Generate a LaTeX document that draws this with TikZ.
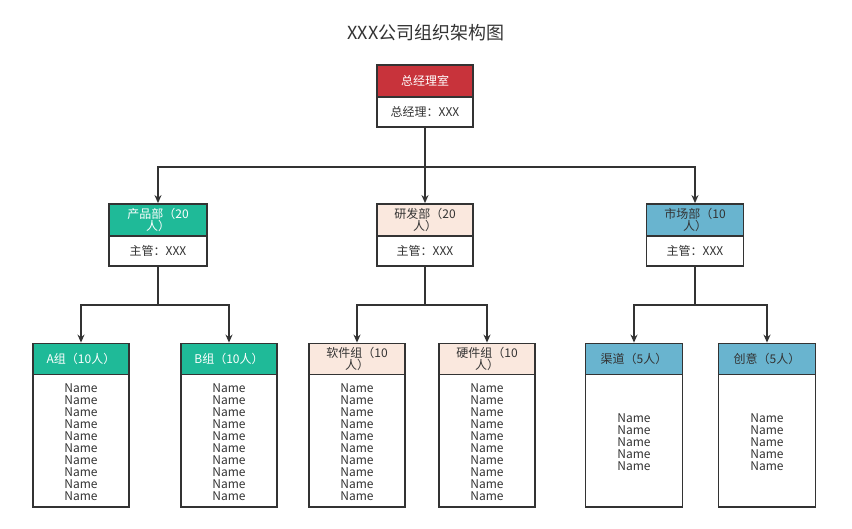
\documentclass[tikz,border=0pt]{standalone}
\usepackage{fontspec}
\setmainfont{Noto Sans CJK SC}
\newfontfamily\cjk{Noto Sans CJK SC}
\usetikzlibrary{arrows.meta}
\definecolor{dark}{HTML}{333333}
\definecolor{cred}{HTML}{C8333B}
\definecolor{cteal}{HTML}{1FBA98}
\definecolor{cpeach}{HTML}{FAE8DE}
\definecolor{cblue}{HTML}{69B4CF}
\definecolor{txt}{HTML}{333333}
\begin{document}
\begin{tikzpicture}[x=1pt,y=-1pt,
  box/.style={draw=dark,line width=1.8pt,inner sep=0pt,align=center,text=txt,
    font=\cjk\fontsize{12}{12}\selectfont},
  hdr/.style={box,minimum height=31pt},
  bodyA/.style={box,fill=white,minimum height=30pt},
  bodyB/.style={box,fill=white,minimum height=133pt},
  wtext/.style={text=white},
  conn/.style={draw=dark,line width=1.2pt},
  arr/.style={conn,-{Stealth[length=8pt,width=7pt]}}
]
\fill[white] (0,0) rectangle (852,529);
\node[font=\cjk\fontsize{18}{18}\selectfont,text=txt] (title) at (426,33) {XXX公司组织架构图};

% top
\node[bodyA,minimum width=96pt] (topb) at (425,112) {总经理：XXX};
\node[hdr,fill=cred,wtext,minimum width=96pt,minimum height=32pt] (toph) at (425,81) {总经理室};

% level 2
\node[bodyA,minimum width=98pt] (pb) at (158,251) {主管：XXX};
\node[hdr,fill=cteal,wtext,minimum width=98pt,minimum height=32pt] (ph) at (158,220) {产品部（20\\人）};
\node[bodyA,minimum width=96pt] (yb) at (425,251) {主管：XXX};
\node[hdr,fill=cpeach,minimum width=96pt,minimum height=32pt] (yh) at (425,220) {研发部（20\\人）};
\node[bodyA,minimum width=97pt] (sb) at (695,251) {主管：XXX};
\node[hdr,fill=cblue,minimum width=97pt,minimum height=32pt] (sh) at (695,220) {市场部（10\\人）};

% level 3 bodies
\def\ten{Name\\Name\\Name\\Name\\Name\\Name\\Name\\Name\\Name\\Name}
\def\five{Name\\Name\\Name\\Name\\Name}
\node[bodyB,minimum width=96pt] (ab) at (81,440.5) {};
\node[box,draw=none,anchor=north] (at) at (81,383) {\ten};
\node[hdr,fill=cteal,wtext,minimum width=96pt] (ah) at (81,359) {A组（10人）};

\node[bodyB,minimum width=96pt] (bb) at (229,440.5) {};
\node[box,draw=none,anchor=north] (bt) at (229,383) {\ten};
\node[hdr,fill=cteal,wtext,minimum width=96pt] (bh) at (229,359) {B组（10人）};

\node[bodyB,minimum width=96pt] (rb) at (357,440.5) {};
\node[box,draw=none,anchor=north] (rt) at (357,383) {\ten};
\node[hdr,fill=cpeach,minimum width=96pt] (rh) at (357,359) {软件组（10\\人）};

\node[bodyB,minimum width=96pt] (hb) at (487,440.5) {};
\node[box,draw=none,anchor=north] (ht) at (487,383) {\ten};
\node[hdr,fill=cpeach,minimum width=96pt] (hh) at (487,359) {硬件组（10\\人）};

\node[bodyB,minimum width=97pt] (qb) at (634,440.5) {};
\node[box,draw=none,anchor=north] (qt) at (634,413) {\five};
\node[hdr,fill=cblue,minimum width=97pt] (qh) at (634,359) {渠道（5人）};

\node[bodyB,minimum width=97pt] (cb) at (767,440.5) {};
\node[box,draw=none,anchor=north] (ct) at (767,413) {\five};
\node[hdr,fill=cblue,minimum width=97pt] (ch) at (767,359) {创意（5人）};

% connectors
\coordinate (j0) at (425,167);
\draw[conn] (topb.south) -- (j0);
\draw[arr] (j0) -| (ph.north);
\draw[arr] (j0) -- (yh.north);
\draw[arr] (j0) -| (sh.north);

\coordinate (j1) at (158,305);
\draw[conn] (pb.south) -- (j1);
\draw[arr] (j1) -| (ah.north);
\draw[arr] (j1) -| (bh.north);

\coordinate (j2) at (425,305);
\draw[conn] (yb.south) -- (j2);
\draw[arr] (j2) -| (rh.north);
\draw[arr] (j2) -| (hh.north);

\coordinate (j3) at (695,305);
\draw[conn] (sb.south) -- (j3);
\draw[arr] (j3) -| (qh.north);
\draw[arr] (j3) -| (ch.north);
\end{tikzpicture}
\end{document}
